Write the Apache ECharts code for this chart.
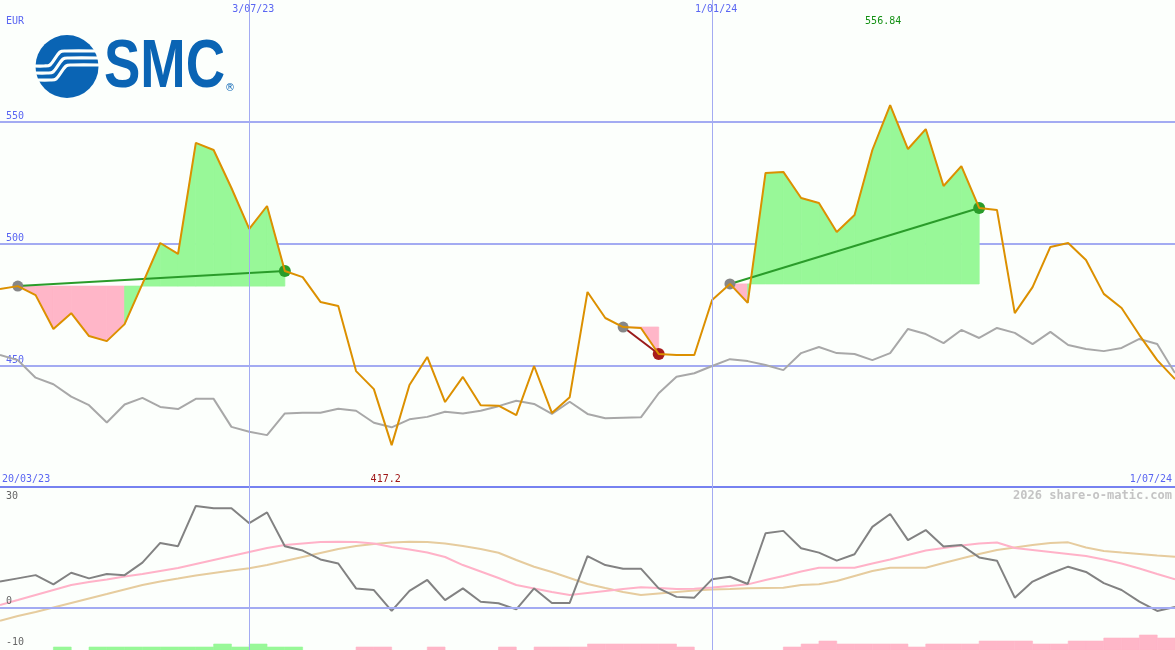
<!DOCTYPE html>
<html><head><meta charset="utf-8">
<script src="https://cdn.jsdelivr.net/npm/echarts@6/dist/echarts.min.js"></script>
<style>html,body{margin:0;padding:0;background:#fcfffc}#c{width:1175px;height:650px}</style>
</head><body><div id="c"></div>
<script>
// ---- data (weekly points, index 0..66) ----
const price = [481.3,482.5,478.8,464.9,471.4,462.0,459.9,466.9,483.4,500.2,
495.7,541.3,538.4,522.8,506.0,515.4,488.7,486.2,476.0,474.3,
447.6,440.2,417.2,441.9,453.4,434.9,445.2,433.6,433.4,429.5,
449.7,430.4,436.9,480.1,469.4,465.7,465.3,454.6,454.2,454.2,
476.8,483.4,475.6,529.0,529.4,518.7,516.6,504.7,511.7,538.4,
556.84,538.8,547.0,523.6,531.8,514.6,513.8,471.4,482.1,498.6,
500.2,493.2,479.3,473.5,462.4,452.1,444.3];
const benchmark = [454.2,452.1,444.9,442.2,437.1,433.6,426.5,433.9,436.6,432.9,
432.0,436.2,436.2,424.7,422.7,421.3,430.2,430.5,430.5,432.1,
431.3,426.4,424.5,427.8,428.8,430.9,430.2,431.3,433.2,435.4,
434.1,430.0,435.0,430.0,428.2,428.4,428.6,438.5,445.3,446.7,
449.7,452.5,451.7,450.1,448.0,455.0,457.5,455.0,454.6,452.1,
455.0,464.9,462.8,459.1,464.5,461.2,465.3,463.3,458.7,463.7,
458.3,456.7,455.8,457.1,460.8,458.7,446.8];
const osc = [6.5,7.3,8.1,5.8,8.7,7.3,8.4,8.1,11.2,16.1,
15.3,25.3,24.7,24.7,21.0,23.7,15.3,14.2,12.0,11.0,
4.8,4.4,-0.8,4.2,6.9,1.9,4.8,1.5,1.1,-0.4,
4.8,1.2,1.2,12.8,10.6,9.7,9.7,4.8,2.7,2.5,
7.1,7.7,5.9,18.5,19.1,14.8,13.7,11.7,13.3,20.1,
23.3,16.8,19.3,15.2,15.6,12.5,11.7,2.5,6.5,8.5,
10.2,8.9,6.1,4.4,1.5,-0.8,0.2];
const oscFast = [0.67,1.91,3.16,4.40,5.64,6.39,7.01,7.75,8.37,9.12,
9.86,10.86,11.85,12.84,13.84,14.83,15.58,15.95,16.32,16.40,
16.32,15.95,15.08,14.46,13.71,12.60,10.61,8.99,7.38,5.64,
4.77,3.90,3.16,3.65,4.15,4.65,5.07,4.89,4.65,4.72,
5.02,5.39,5.81,6.88,7.88,8.99,9.94,9.94,9.94,10.98,
11.98,13.09,14.21,14.83,15.45,15.95,16.20,14.83,14.34,13.84,
13.34,12.84,11.98,10.98,9.74,8.37,7.06];
const oscSlow = [-3.23,-2.06,-1.07,0.05,1.17,2.29,3.40,4.52,5.64,6.51,
7.25,8.00,8.62,9.24,9.79,10.61,11.60,12.60,13.59,14.58,
15.33,15.83,16.20,16.37,16.32,15.95,15.33,14.58,13.66,11.85,
10.19,8.87,7.38,5.89,4.89,3.90,3.16,3.53,3.90,4.27,
4.52,4.65,4.82,4.89,4.97,5.64,5.81,6.63,7.88,9.12,
9.94,9.94,9.94,11.11,12.22,13.34,14.34,14.96,15.58,16.07,
16.25,14.96,14.09,13.71,13.34,12.97,12.67];
const histo = [0,0,0,1,0,1,1,1,1,1,
1,1,2,1,2,1,1,0,0,0,
-1,-1,0,0,-1,0,0,0,-1,0,
-1,-1,-1,-2,-2,-2,-2,-2,-1,0,
0,0,0,0,-1,-2,-3,-2,-2,-2,
-2,-1,-2,-2,-2,-3,-3,-3,-2,-2,
-3,-3,-4,-4,-5,-4];
const tradeStart = [1, 35, 41];
const tradeEnd = [16, 37, 55];
const dateMarks = [14, 40];
const dateMarkLabels = ['3/07/23', '1/01/24'];
const firstDate = '20/03/23', lastDate = '1/07/24';
const currency = 'EUR';
const priceTicks = [450, 500, 550];
const oscLabels = [30, 0, -10];
const watermark = '2026 share-o-matic.com';

// ---- styles ----
const BLUE = '#5a66f2', GRID = '#a3abf2', SEP = '#7682f0';
const GREENFILL = '#98f898', PINKFILL = '#ffb6c8';
const MONO = '"DejaVu Sans Mono", monospace';
const N = price.length;

const chart = echarts.init(document.getElementById('c'), null, {renderer: 'canvas'});

const fillData = [];
tradeStart.forEach((s, k) => {
  const e = tradeEnd[k];
  for (let i = s; i < e; i++) fillData.push([i, price[i], price[i + 1], price[s]]);
});

const tradeSeries = tradeStart.map((s, k) => {
  const e = tradeEnd[k];
  const win = price[e] >= price[s];
  return {
    type: 'line', xAxisIndex: 0, yAxisIndex: 0, z: 3,
    data: [
      {value: [s, price[s]], symbolSize: 11, itemStyle: {color: '#868686'}},
      {value: [e, price[e]], symbolSize: 12, itemStyle: {color: win ? '#2a9c2a' : '#a81c1c'}}
    ],
    symbol: 'circle', showSymbol: true,
    lineStyle: {color: win ? '#2a9c2a' : '#9a1a1a', width: 2},
    silent: true
  };
});

const vlines = () => ({
  silent: true, symbol: ['none', 'none'], animation: false,
  label: {show: false},
  lineStyle: {color: GRID, width: 1, type: 'solid'},
  data: dateMarks.map(d => ({xAxis: d}))
});

const option = {
  animation: false,
  backgroundColor: '#fcfffc',
  grid: [
    {left: 0, right: 0, top: 0, height: 487},
    {left: 0, right: 0, top: 487, height: 163}
  ],
  xAxis: [
    {type: 'value', gridIndex: 0, min: 0, max: N - 1, show: false},
    {type: 'value', gridIndex: 1, min: 0, max: N - 1, position: 'top',
     axisLine: {show: true, onZero: false, lineStyle: {color: SEP, width: 2}},
     axisTick: {show: false}, axisLabel: {show: false}, splitLine: {show: false}}
  ],
  yAxis: [
    {type: 'value', gridIndex: 0, min: 400, max: 600, interval: 50,
     axisLine: {show: false}, axisTick: {show: false},
     axisLabel: {inside: true, margin: 6, verticalAlign: 'bottom', color: BLUE,
       fontFamily: MONO, fontSize: 10, showMinLabel: false, showMaxLabel: false,
       formatter: v => priceTicks.includes(v) ? String(v) : ''},
     splitLine: {show: true, showMinLine: false, showMaxLine: false, lineStyle: {color: GRID, width: 2}}},
    {type: 'value', gridIndex: 1, min: -10.5, max: 30, show: false},
    {type: 'value', gridIndex: 1, min: 0, max: 163 / 3, show: false}
  ],
  series: [
    {type: 'custom', xAxisIndex: 0, yAxisIndex: 0, z: 1, silent: true,
     data: fillData,
     renderItem: (params, api) => {
       const i = api.value(0), a = api.value(1), b = api.value(2), base = api.value(3);
       const p1 = api.coord([i, base]), p2 = api.coord([i, a]),
             p3 = api.coord([i + 1, b]), p4 = api.coord([i + 1, base]);
       const c = b >= base ? GREENFILL : PINKFILL;
       return {type: 'polygon', shape: {points: [p1, p2, p3, p4]},
               style: {fill: c, stroke: c, lineWidth: 0.8}};
     }},
    {type: 'line', xAxisIndex: 0, yAxisIndex: 0, z: 2, silent: true,
     data: benchmark.map((v, i) => [i, v]), showSymbol: false,
     lineStyle: {color: '#a8a8a8', width: 2},
     markLine: vlines()},
    ...tradeSeries,
    {type: 'line', xAxisIndex: 0, yAxisIndex: 0, z: 4, silent: true,
     data: price.map((v, i) => [i, v]), showSymbol: false,
     lineStyle: {color: '#dc9000', width: 2}},
    // lower panel
    {type: 'custom', xAxisIndex: 1, yAxisIndex: 2, z: 1, silent: true,
     data: histo.map((v, i) => [i, v]),
     renderItem: (params, api) => {
       const i = api.value(0), v = api.value(1);
       if (!v) return null;
       const p0 = api.coord([i, 0]), p1 = api.coord([i + 1, Math.abs(v)]);
       const c = v > 0 ? GREENFILL : PINKFILL;
       return {type: 'rect', shape: {x: p0[0], y: p1[1], width: p1[0] - p0[0], height: p0[1] - p1[1]},
               style: {fill: c, stroke: c, lineWidth: 0.6}};
     }},
    {type: 'line', xAxisIndex: 1, yAxisIndex: 1, z: 2, silent: true,
     data: oscSlow.map((v, i) => [i, v]), showSymbol: false,
     lineStyle: {color: '#e6cc9e', width: 2},
     markLine: {silent: true, symbol: ['none', 'none'], label: {show: false},
       lineStyle: {color: GRID, width: 2, type: 'solid'}, data: [{yAxis: 0}]}},
    {type: 'line', xAxisIndex: 1, yAxisIndex: 1, z: 3, silent: true,
     data: oscFast.map((v, i) => [i, v]), showSymbol: false,
     lineStyle: {color: '#ffb2c8', width: 2},
     markLine: vlines()},
    {type: 'line', xAxisIndex: 1, yAxisIndex: 1, z: 4, silent: true,
     data: osc.map((v, i) => [i, v]), showSymbol: false,
     lineStyle: {color: '#828282', width: 2}}
  ]
};
chart.setOption(option);

// ---- texts positioned through the axes ----
const P = (x, y) => chart.convertToPixel({xAxisIndex: 0, yAxisIndex: 0}, [x, y]);
const L = (x, y) => chart.convertToPixel({xAxisIndex: 1, yAxisIndex: 1}, [x, y]);
const txt = (text, x, y, color, align, font) => ({
  type: 'text', x: x, y: y, silent: true, z: 100,
  style: {text: text, fill: color, font: font || ('10px ' + MONO), align: align || 'left',
          textAlign: align || 'left', verticalAlign: 'middle', textVerticalAlign: 'middle'}
});

let maxI = 0, minI = 0;
price.forEach((v, i) => { if (v > price[maxI]) maxI = i; if (v < price[minI]) minI = i; });

const g = [];
g.push(txt(currency, 6, 21, BLUE));
dateMarks.forEach((d, k) => g.push(txt(dateMarkLabels[k], P(d, 600)[0] + 4, 9, BLUE, 'center')));
g.push(txt(price[maxI].toFixed(2), P(maxI, 600)[0] - 7, 21, '#139013', 'center'));
g.push(txt(String(price[minI]), P(minI, 400)[0] - 6, 479, '#a01818', 'center'));
g.push(txt(firstDate, 2, 479, BLUE));
g.push(txt(lastDate, 1172, 479, BLUE, 'right'));
g.push(txt(watermark, 1172, 496, '#c4c4c4', 'right', 'bold 12px ' + MONO));
oscLabels.forEach(v => {
  const y = v === 30 ? 496 : L(0, v)[1] - 6;
  g.push(txt(String(v), 6, y, '#666666'));
});

// ---- logo ----
const LOGO = '#0a64b4';
g.push({type: 'circle', shape: {cx: 67, cy: 66.5, r: 31.5}, style: {fill: LOGO}, z: 100, silent: true});
const leftY = [66, 73, 80], rightY = [51, 58, 65];
leftY.forEach((ly, k) => {
  const ry = rightY[k];
  const lx = 67 - Math.sqrt(31.5 * 31.5 - (ly - 66.5) * (ly - 66.5)) - 1;
  const rx = 67 + Math.sqrt(31.5 * 31.5 - (ry - 66.5) * (ry - 66.5)) + 1;
  g.push({type: 'polyline', z: 101, silent: true,
    shape: {points: [[lx, ly], [44 + k * 3, ly], [50 + k * 3, ly - 1], [60 + k * 3, ry + 1], [66 + k * 3, ry], [rx, ry]], smooth: 0.35},
    style: {stroke: '#fcfffc', lineWidth: 3.2, fill: null}});
});
g.push({type: 'text', x: 104, y: 68, scaleX: 0.79, z: 100, silent: true,
  style: {text: 'SMC', fill: LOGO, font: 'bold 69px "Liberation Sans", Arial, sans-serif',
          align: 'left', textAlign: 'left', verticalAlign: 'middle', textVerticalAlign: 'middle'}});
g.push({type: 'text', x: 230, y: 88, z: 100, silent: true,
  style: {text: '®', fill: LOGO, font: '10px "DejaVu Sans"', align: 'center', textAlign: 'center',
          verticalAlign: 'middle', textVerticalAlign: 'middle'}});

chart.setOption({graphic: g});
</script>
</body></html>
